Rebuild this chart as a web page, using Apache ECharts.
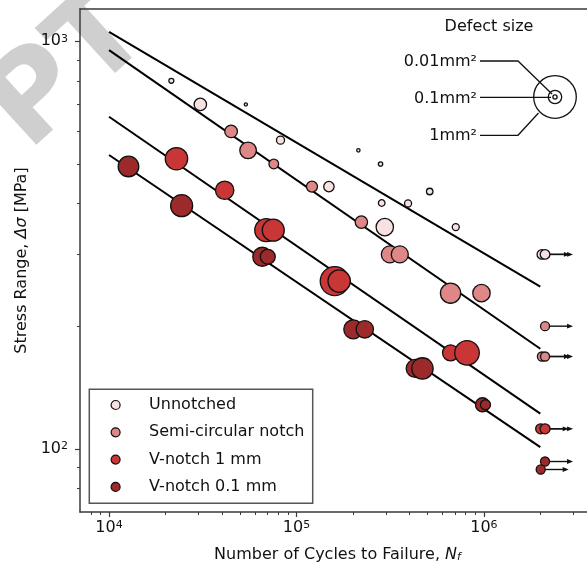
<!DOCTYPE html>
<html><head><meta charset="utf-8">
<script src="https://cdn.jsdelivr.net/npm/echarts@6/dist/echarts.min.js"></script>
<style>html,body{margin:0;padding:0;background:#fff}#c{width:587px;height:568px}</style>
</head><body><div id="c"></div>
<script>
// ---------------- data ----------------
const seriesNames = ['Unnotched', 'Semi-circular notch', 'V-notch 1 mm', 'V-notch 0.1 mm'];
// [cycles to failure, stress range MPa, defect size mm^2, runout flag]
const unnotched = [
  [21500, 800, 0.013], [30700, 700, 0.081], [53700, 700, 0.005], [82200, 572, 0.034],
  [214000, 540, 0.006], [149000, 440, 0.057], [281000, 500, 0.010], [514000, 428, 0.022],
  [285000, 401, 0.023], [394000, 400, 0.026], [708000, 350, 0.026], [296000, 350, 0.159],
  [2040000, 300, 0.049, 1], [2120000, 300, 0.049, 1]
];
const semiCircular = [
  [44800, 601, 0.084], [55200, 540, 0.145], [75700, 500, 0.049], [121000, 440, 0.064],
  [222000, 360, 0.081], [315000, 300, 0.152], [356000, 300, 0.152], [664000, 241, 0.215],
  [971000, 241, 0.159],
  [2120000, 200, 0.043, 1], [2040000, 168.5, 0.043, 1], [2120000, 168.5, 0.043, 1]
];
const vNotch1 = [
  [22900, 515, 0.264], [41400, 431, 0.178], [69000, 344, 0.278], [75200, 344, 0.255],
  [160000, 258, 0.442], [169000, 258, 0.264], [664000, 172, 0.135], [813000, 172, 0.318],
  [2010000, 112, 0.053, 1], [2120000, 112, 0.053, 1]
];
const vNotch01 = [
  [12700, 493, 0.223], [24400, 395, 0.255], [65700, 296, 0.190], [70300, 296, 0.118],
  [201000, 196.5, 0.190], [231500, 196.5, 0.159], [430000, 157.5, 0.170], [470000, 157.5, 0.241],
  [983000, 128.3, 0.103], [1020000, 128.3, 0.053],
  [2120000, 93.1, 0.043, 1], [2010000, 89, 0.043, 1]
];
// fitted S-N lines [N, stress]
const fitUnnotched = [[1e4, 1054], [2e6, 250]];
const fitSemi = [[1e4, 951], [2e6, 176]];
const fitV1 = [[1e4, 653], [2e6, 122]];
const fitV01 = [[1e4, 526], [2e6, 101]];
// ticks
const xMajorTicks = [1e4, 1e5, 1e6];
const xMinorTicks = [8e3, 9e3, 2e4, 3e4, 4e4, 5e4, 6e4, 7e4, 8e4, 9e4,
  2e5, 3e5, 4e5, 5e5, 6e5, 7e5, 8e5, 9e5, 2e6, 3e6];
const yMajorTicks = [100, 1000];
const yMinorTicks = [80, 90, 200, 300, 400, 500, 600, 700, 800, 900];
const defectLegendSizes = ['0.01mm²', '0.1mm²', '1mm²'];

// ---------------- style ----------------
const FONT = 'DejaVu Sans';
const colors = ['#f8e1e1', '#df8787', '#c83636', '#9c2a2b'];
const axisColor = '#3a3a3a';
const textColor = '#111';
const PX_PER_SQRT_MM2 = 43.6; // diameter of a 1 mm^2 bubble

const chart = echarts.init(document.getElementById('c'), null, {renderer: 'canvas'});

const supRich = {
  sup: {fontSize: 11, fontFamily: FONT, color: textColor, verticalAlign: 'top', lineHeight: 12}
};
function powLabel(v) { return '10{sup|' + Math.round(Math.log10(v)) + '}'; }

const xRange = {min: 7000, max: 3.55e6};
const yRange = {min: 70, max: 1200};

function scatterSeries(name, data, color) {
  return {
    name: name, type: 'scatter', data: data,
    symbol: 'circle',
    symbolSize: function (v) { return PX_PER_SQRT_MM2 * Math.sqrt(v[2]); },
    itemStyle: {color: color, borderColor: '#111', borderWidth: 1.3, opacity: 1},
    emphasis: {disabled: true}, silent: true, z: 3
  };
}
function fitSeries(data) {
  return {
    type: 'line', data: data, symbol: 'none', silent: true, z: 2,
    lineStyle: {color: '#000', width: 2, cap: 'butt'}, animation: false
  };
}
const allData = [unnotched, semiCircular, vNotch1, vNotch01];
const runouts = [];
allData.forEach(function (arr) { arr.forEach(function (d) { if (d[3] === 1) runouts.push([d[0], d[1]]); }); });

const option = {
  animation: false,
  backgroundColor: '#fff',
  grid: {left: 80, right: 0, top: 9, bottom: 55, containLabel: false},
  xAxis: [
    {
      type: 'log', logBase: 10, min: xRange.min, max: xRange.max, position: 'bottom',
      axisLine: {show: true, onZero: false, lineStyle: {color: axisColor, width: 1.5}},
      axisTick: {show: true, customValues: xMajorTicks, length: 5, lineStyle: {color: axisColor, width: 1.2}},
      axisLabel: {show: true, customValues: xMajorTicks, formatter: powLabel, margin: 8, fontSize: 16,
        fontFamily: FONT, color: textColor, rich: supRich},
      splitLine: {show: false}, minorTick: {show: false},
      name: 'Number of Cycles to Failure, {i|N}{sub|f}', nameLocation: 'middle', nameGap: 35,
      nameTextStyle: {fontSize: 16, fontFamily: FONT, color: textColor, padding: [0, 0, 0, 8], rich: {
        i: {fontSize: 16, fontFamily: FONT, fontStyle: 'italic', color: textColor},
        sub: {fontSize: 11, fontFamily: FONT, fontStyle: 'italic', color: textColor, verticalAlign: 'bottom', lineHeight: 12, padding: [6, 0, 0, 0]}
      }}
    },
    {
      type: 'log', logBase: 10, min: xRange.min, max: xRange.max, position: 'bottom',
      axisLine: {show: false, onZero: false},
      axisTick: {show: true, customValues: xMinorTicks, length: 3, lineStyle: {color: axisColor, width: 1}},
      axisLabel: {show: false}, splitLine: {show: false}
    },
    {
      type: 'log', logBase: 10, min: xRange.min, max: xRange.max, position: 'top',
      axisLine: {show: true, onZero: false, lineStyle: {color: axisColor, width: 1.5}},
      axisTick: {show: false}, axisLabel: {show: false}, splitLine: {show: false}
    }
  ],
  yAxis: [
    {
      type: 'log', logBase: 10, min: yRange.min, max: yRange.max, position: 'left',
      axisLine: {show: true, onZero: false, lineStyle: {color: axisColor, width: 1.5}},
      axisTick: {show: true, customValues: yMajorTicks, length: 5, lineStyle: {color: axisColor, width: 1.2}},
      axisLabel: {show: true, customValues: yMajorTicks, formatter: powLabel, margin: 12, fontSize: 16,
        fontFamily: FONT, color: textColor, rich: supRich},
      splitLine: {show: false},
      name: 'Stress Range, {i|Δσ} [MPa]', nameLocation: 'middle', nameRotate: 90, nameGap: 50,
      nameTextStyle: {fontSize: 16, fontFamily: FONT, color: textColor, rich: {
        i: {fontSize: 16, fontFamily: FONT, fontStyle: 'italic', color: textColor}
      }}
    },
    {
      type: 'log', logBase: 10, min: yRange.min, max: yRange.max, position: 'left',
      axisLine: {show: false, onZero: false},
      axisTick: {show: true, customValues: yMinorTicks, length: 3, lineStyle: {color: axisColor, width: 1}},
      axisLabel: {show: false}, splitLine: {show: false}
    }
  ],
  legend: {
    data: seriesNames, orient: 'vertical', left: 110.5, top: 396, padding: 0, itemGap: 9.3,
    itemWidth: 9, itemHeight: 9, icon: 'circle', selectedMode: false, z: 5,
    textStyle: {fontSize: 16, fontFamily: FONT, color: textColor, lineHeight: 18, padding: [0, 0, 0, 24]},
    itemStyle: {borderColor: '#111', borderWidth: 1.2}
  },
  series: [
    fitSeries(fitUnnotched), fitSeries(fitSemi), fitSeries(fitV1), fitSeries(fitV01),
    {
      type: 'custom', data: runouts, silent: true, z: 2, encode: {x: 0, y: 1},
      renderItem: function (params, api) {
        const p = api.coord([api.value(0), api.value(1)]);
        const L = 28, hl = 6, hw = 2.4;
        return {type: 'group', children: [
          {type: 'line', shape: {x1: p[0], y1: p[1], x2: p[0] + L - hl + 1, y2: p[1]},
            style: {stroke: '#111', lineWidth: 1.4}},
          {type: 'polygon', shape: {points: [[p[0] + L, p[1]], [p[0] + L - hl, p[1] - hw], [p[0] + L - hl, p[1] + hw]]},
            style: {fill: '#111'}}
        ]};
      }
    },
    scatterSeries(seriesNames[0], unnotched, colors[0]),
    scatterSeries(seriesNames[1], semiCircular, colors[1]),
    scatterSeries(seriesNames[2], vNotch1, colors[2]),
    scatterSeries(seriesNames[3], vNotch01, colors[3])
  ],
  graphic: [
    {type: 'text', z: -1, silent: true, x: 70, y: 72, rotation: 0.74,
      style: {text: 'PT', fill: '#cfcfcf', font: 'bold 120px "DejaVu Sans"', align: 'center', verticalAlign: 'middle'}},
    {type: 'rect', z: 1, silent: true, shape: {x: 89.3, y: 389.3, width: 223.4, height: 114},
      style: {fill: '#fff', stroke: '#555', lineWidth: 1.5}},
    {type: 'text', silent: true, x: 489, y: 27,
      style: {text: 'Defect size', fill: textColor, font: '16px "DejaVu Sans"', align: 'center', verticalAlign: 'middle'}},
    {type: 'text', silent: true, x: 477, y: 62,
      style: {text: defectLegendSizes[0], fill: textColor, font: '16px "DejaVu Sans"', align: 'right', verticalAlign: 'middle'}},
    {type: 'text', silent: true, x: 477, y: 98.5,
      style: {text: defectLegendSizes[1], fill: textColor, font: '16px "DejaVu Sans"', align: 'right', verticalAlign: 'middle'}},
    {type: 'text', silent: true, x: 477, y: 135.5,
      style: {text: defectLegendSizes[2], fill: textColor, font: '16px "DejaVu Sans"', align: 'right', verticalAlign: 'middle'}},
    {type: 'circle', silent: true, shape: {cx: 555, cy: 97, r: 21.3}, style: {fill: 'none', stroke: '#111', lineWidth: 1.3}},
    {type: 'circle', silent: true, shape: {cx: 555, cy: 97, r: 6.7}, style: {fill: 'none', stroke: '#111', lineWidth: 1.3}},
    {type: 'circle', silent: true, shape: {cx: 555, cy: 97, r: 2.1}, style: {fill: 'none', stroke: '#111', lineWidth: 1.3}},
    {type: 'polyline', silent: true, shape: {points: [[480, 61], [518, 61], [552, 94]]}, style: {stroke: '#111', lineWidth: 1.3, fill: null}},
    {type: 'polyline', silent: true, shape: {points: [[480, 97.3], [551, 97.3]]}, style: {stroke: '#111', lineWidth: 1.3, fill: null}},
    {type: 'polyline', silent: true, shape: {points: [[480, 135.3], [518, 135.3], [538.5, 113]]}, style: {stroke: '#111', lineWidth: 1.3, fill: null}}
  ]
};
chart.setOption(option);
</script>
</body></html>
